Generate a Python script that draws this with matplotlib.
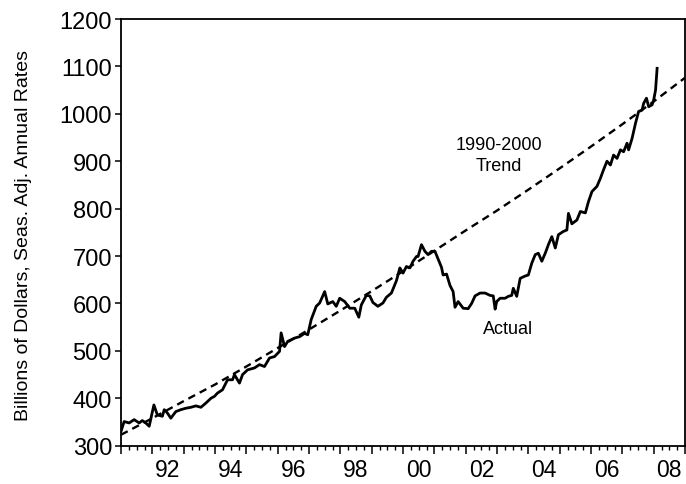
import matplotlib
matplotlib.use("Agg")
import matplotlib.pyplot as plt
import numpy as np

plt.rcParams['font.family'] = ['Liberation Sans', 'DejaVu Sans']

# ---- data ----
actual_years = [
    1991.00, 1991.10, 1991.26, 1991.42, 1991.58, 1991.68, 1991.79, 1991.90,
    1992.05, 1992.16, 1992.32, 1992.38, 1992.48, 1992.59, 1992.75, 1992.91,
    1993.07, 1993.23, 1993.39, 1993.55, 1993.71, 1993.87, 1993.98, 1994.08,
    1994.24, 1994.40, 1994.56, 1994.62, 1994.78, 1994.88, 1995.04, 1995.26,
    1995.42, 1995.58, 1995.74, 1995.90, 1996.06, 1996.11, 1996.22, 1996.32,
    1996.54, 1996.70, 1996.86, 1996.96, 1997.07, 1997.23, 1997.34, 1997.50,
    1997.60, 1997.76, 1997.87, 1997.98, 1998.14, 1998.30, 1998.46, 1998.59,
    1998.67, 1998.83, 1998.94, 1999.04, 1999.20, 1999.36, 1999.47, 1999.63,
    1999.79, 1999.90, 2000.00, 2000.11, 2000.22, 2000.32, 2000.43, 2000.48,
    2000.59, 2000.70, 2000.80, 2000.91, 2001.02, 2001.12, 2001.23, 2001.28,
    2001.39, 2001.50, 2001.60, 2001.66, 2001.76, 2001.92, 2002.08, 2002.19,
    2002.30, 2002.46, 2002.62, 2002.78, 2002.88, 2002.94, 2002.99, 2003.10,
    2003.26, 2003.36, 2003.47, 2003.52, 2003.63, 2003.74, 2003.90, 2004.00,
    2004.11, 2004.22, 2004.32, 2004.43, 2004.54, 2004.64, 2004.75, 2004.86,
    2004.96, 2005.12, 2005.23, 2005.28, 2005.39, 2005.55, 2005.66, 2005.82,
    2005.92, 2006.03, 2006.19, 2006.30, 2006.40, 2006.51, 2006.62, 2006.72,
    2006.83, 2006.94, 2007.04, 2007.15, 2007.20, 2007.31, 2007.42, 2007.52,
    2007.63, 2007.68, 2007.77, 2007.84, 2007.95, 2008.00, 2008.06, 2008.11,
]
actual_values = [
    330, 351, 348, 355, 348, 353, 348, 341,
    386, 365, 362, 376, 369, 358, 372, 376,
    379, 381, 384, 381, 390, 400, 404, 411,
    418, 439, 439, 450, 432, 450, 460, 464,
    471, 467, 485, 488, 499, 538, 509, 520,
    527, 530, 537, 534, 566, 594, 601, 625,
    599, 604, 594, 611, 604, 590, 590, 571,
    597, 617, 616, 602, 594, 601, 613, 622,
    648, 675, 664, 678, 675, 689, 699, 699,
    724, 710, 703, 710, 710, 694, 676, 660,
    662, 638, 625, 592, 604, 590, 589, 600,
    616, 622, 622, 617, 616, 588, 604, 611,
    611, 615, 617, 632, 615, 653, 658, 660,
    685, 703, 706, 689, 706, 724, 741, 717,
    745, 752, 755, 790, 768, 776, 794, 791,
    815, 836, 847, 864, 882, 900, 892, 913,
    906, 924, 920, 938, 924, 948, 980, 1005,
    1008, 1022, 1033, 1015, 1019, 1029, 1050, 1096,
]

trend_years = list(range(1991, 2010))
trend_values = [323, 358, 394, 429, 467, 506, 545, 585, 626, 668,
                711, 754, 796, 840, 885, 931, 978, 1026, 1076]

year_labels = ['92', '94', '96', '98', '00', '02', '04', '06', '08']
label_years = [1992, 1994, 1996, 1998, 2000, 2002, 2004, 2006, 2008]
y_ticks = [300, 400, 500, 600, 700, 800, 900, 1000, 1100, 1200]

# ---- figure ----
fig = plt.figure(figsize=(6.86, 4.85), dpi=100)
ax = fig.add_axes([121 / 686, 38.3 / 485, 564 / 686, 426.7 / 485])

ax.plot(trend_years, trend_values, color='black', lw=1.7,
        linestyle=(0, (3.2, 2.2)))
ax.plot(actual_years, actual_values, color='black', lw=2.0,
        solid_joinstyle='round')

ax.set_xlim(1991, 2009)
ax.set_ylim(300, 1200)

for s in ax.spines.values():
    s.set_linewidth(1.3)
    s.set_color('black')

ax.set_yticks(y_ticks)
ax.set_yticklabels([str(v) for v in y_ticks])
ax.tick_params(axis='y', direction='out', length=4.5, width=1.1,
               labelsize=17, pad=2)

ax.set_xticks(np.arange(1991, 2010, 1))
ax.set_xticklabels([])
ax.set_xticks(np.arange(1991, 2009.01, 0.25), minor=True)
ax.tick_params(axis='x', which='major', direction='out', length=5.5, width=1.1)
ax.tick_params(axis='x', which='minor', direction='out', length=3.2, width=1.0)

sec = ax.secondary_xaxis('bottom')
sec.set_xticks([y + 0.5 for y in label_years])
sec.set_xticklabels(year_labels)
sec.tick_params(length=0, labelsize=16.5, pad=9)
sec.spines['bottom'].set_visible(False)

ax.set_ylabel('Billions of Dollars, Seas. Adj. Annual Rates', fontsize=14)
ax.yaxis.set_label_coords(-0.158, 0.494)

ax.text(2003.07, 913, '1990-2000\nTrend', ha='center', va='center',
        fontsize=13, linespacing=1.25)
ax.text(2003.34, 547, 'Actual', ha='center', va='center', fontsize=13)

fig.savefig('out.png', dpi=100)
